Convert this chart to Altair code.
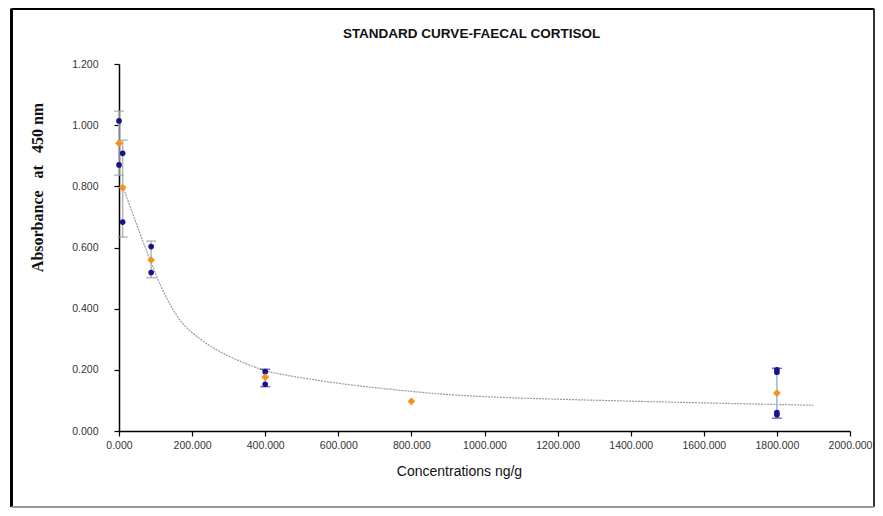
import altair as alt
import pandas as pd

# ---- data ----
blue_x = [0, 0, 10, 10, 88, 88, 400, 400, 1800, 1800, 1800, 1800]
blue_y = [1.014, 0.870, 0.908, 0.683, 0.603, 0.518, 0.194, 0.153, 0.200, 0.192, 0.060, 0.053]

orange_x = [0, 10, 88, 400, 800, 1800]
orange_y = [0.941, 0.796, 0.559, 0.176, 0.097, 0.124]

gray_err_x = [0, 10, 88]
gray_err_lo = [0.836, 0.634, 0.501]
gray_err_hi = [1.046, 0.951, 0.621]

blue_err_x = [400, 1800]
blue_err_lo = [0.145, 0.042]
blue_err_hi = [0.202, 0.205]

curve_x = [10, 48, 84, 111, 139, 166, 203, 267, 340, 394, 422, 605, 787, 879, 1043, 1317, 1590, 1864, 1900]
curve_y = [0.800, 0.676, 0.561, 0.480, 0.414, 0.360, 0.316, 0.262, 0.223, 0.199, 0.189, 0.153,
           0.131, 0.120, 0.109, 0.100, 0.092, 0.085, 0.084]

x_ticks = list(range(0, 2001, 200))
y_ticks = [0, 0.2, 0.4, 0.6, 0.8, 1.0, 1.2]

blue_df = pd.DataFrame({"x": blue_x, "y": blue_y})
orange_df = pd.DataFrame({"x": orange_x, "y": orange_y})
gerr_df = pd.DataFrame({"x": gray_err_x, "lo": gray_err_lo, "hi": gray_err_hi})
berr_df = pd.DataFrame({"x": blue_err_x, "lo": blue_err_lo, "hi": blue_err_hi})
curve_df = pd.DataFrame({"x": curve_x, "y": curve_y})

W, H = 731, 367
NB = "\u00a0"

xscale = alt.Scale(domain=[0, 2000], nice=False, zero=False)
yscale = alt.Scale(domain=[0, 1.2], nice=False)

xaxis = alt.Axis(values=x_ticks, format=".3f", grid=False, title="Concentrations ng/g",
                 labelFont="Liberation Sans", labelFontSize=10.5, labelColor="#333333",
                 labelPadding=4, tickSize=5, tickColor="black", domainColor="black",
                 domainWidth=1.5, tickWidth=1.2,
                 titleFont="Liberation Sans", titleFontSize=14, titleFontWeight="normal",
                 titleColor="#111111", titleX=340, titleY=40, titleBaseline="middle",
                 titleAnchor="middle", titleAlign="center", labelFlush=False, labelOverlap=False)
yaxis = alt.Axis(values=y_ticks, format=".3f", grid=False,
                 title="Absorbance" + NB + NB + NB + "at" + NB + NB + NB + "450" + NB + "nm",
                 labelFont="Liberation Sans", labelFontSize=10.5, labelColor="#333333",
                 labelPadding=16, tickSize=5, tickColor="black", domainColor="black",
                 domainWidth=1.5, tickWidth=1.2,
                 titleFont="Liberation Serif", titleFontSize=16, titleFontWeight="bold",
                 titleColor="#111111", titleX=-82, titleY=123, titleAngle=-90,
                 titleBaseline="middle", titleAlign="center", labelOverlap=False)

X = alt.X("x:Q", scale=xscale, axis=xaxis)
Y = alt.Y("y:Q", scale=yscale, axis=yaxis)

curve = alt.Chart(curve_df).mark_line(color="#9a9a9a", strokeDash=[2, 1], strokeWidth=1.2,
                                       interpolate="basis").encode(x=X, y=Y)

def errs(df, color, capcolor):
    rule = alt.Chart(df).mark_rule(color=color, strokeWidth=1.5).encode(
        x=alt.X("x:Q", scale=xscale, axis=xaxis),
        y=alt.Y("lo:Q", scale=yscale, axis=yaxis), y2="hi:Q")
    cap_lo = alt.Chart(df).mark_tick(color=capcolor, orient="horizontal", size=10, thickness=1.5).encode(
        x=alt.X("x:Q", scale=xscale, axis=xaxis), y=alt.Y("lo:Q", scale=yscale, axis=yaxis))
    cap_hi = alt.Chart(df).mark_tick(color=capcolor, orient="horizontal", size=10, thickness=1.5).encode(
        x=alt.X("x:Q", scale=xscale, axis=xaxis), y=alt.Y("hi:Q", scale=yscale, axis=yaxis))
    return rule + cap_lo + cap_hi

gerr = errs(gerr_df, "#b5b5b5", "#a0a0a0")
berr = errs(berr_df, "#9db4e0", "#3a3a9a")

blue = alt.Chart(blue_df).mark_point(shape="circle", filled=True, color="#14148c", size=32,
                                      opacity=1).encode(x=X, y=Y)
orange = alt.Chart(orange_df).mark_point(shape="diamond", filled=True, color="#f5921e", size=60,
                                          opacity=1).encode(x=X, y=Y)

# decorative frame around the whole picture
one = pd.DataFrame({"k": [0]})
frame_l = alt.Chart(one).mark_rule(color="black", strokeWidth=3).encode(
    x=alt.value(-107.5), y=alt.value(-55.5), y2=alt.value(443))
frame_t = alt.Chart(one).mark_rule(color="black", strokeWidth=3).encode(
    x=alt.value(-107.5), x2=alt.value(755), y=alt.value(-55.5))
frame_r = alt.Chart(one).mark_rule(color="#333333", strokeWidth=2).encode(
    x=alt.value(755), y=alt.value(-55.5), y2=alt.value(443))
frame_b = alt.Chart(one).mark_rule(color="#999999", strokeWidth=2).encode(
    x=alt.value(-107.5), x2=alt.value(755), y=alt.value(443))

chart = alt.layer(curve, gerr, berr, blue, orange, frame_l, frame_t, frame_r, frame_b).properties(
    width=W, height=H,
    title=alt.TitleParams("STANDARD CURVE-FAECAL CORTISOL", font="Liberation Sans", fontSize=13.5,
                          fontWeight="bold", color="#111111", anchor="middle", frame="group",
                          dx=-13, offset=-33),
    autosize=alt.AutoSizeParams(type="none"),
    padding={"left": 111, "top": 56, "right": 25, "bottom": 77},
).configure(background="white").configure_view(stroke=None)

chart.save("out.html", embed_options={"renderer": "svg", "actions": False})
